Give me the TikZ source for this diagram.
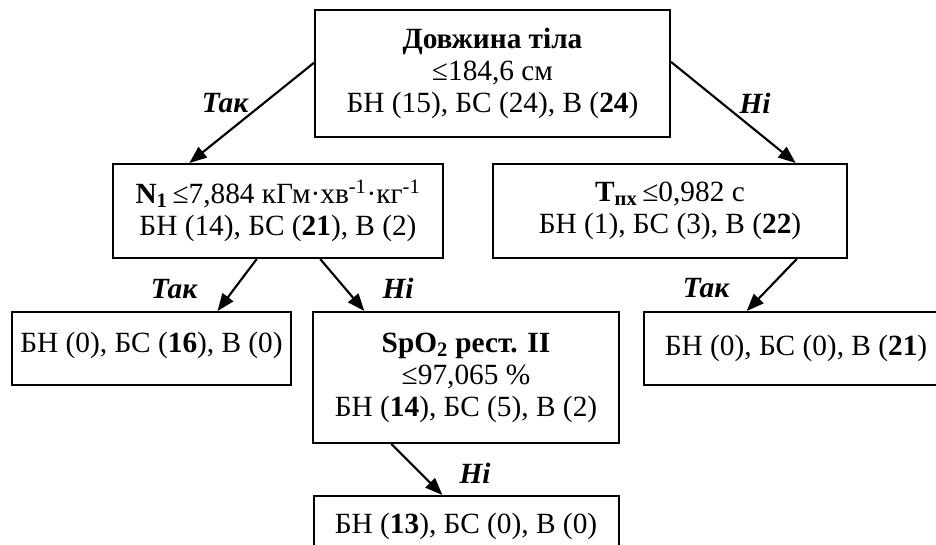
\documentclass[tikz,border=0pt]{standalone}
\usepackage{fontspec}
\setmainfont{Liberation Serif}
\usetikzlibrary{calc,arrows.meta}
\begin{document}
\begin{tikzpicture}[x=0.75pt,y=-0.75pt,
  txt/.style={font=\fontsize{22}{24}\selectfont},
  box/.style={txt,draw,line width=1.5pt,align=center,inner sep=0pt},
  answer/.style={font=\fontsize{22}{24}\selectfont\bfseries\itshape,inner sep=0pt},
  arr/.style={-{Triangle[length=13pt,width=10pt]},line width=1.6pt}]
\useasboundingbox (0,0) rectangle (936,545);
\begin{scope}
\clip (0,0) rectangle (936,545);
% decision nodes
\node[box,minimum width=266.25pt,minimum height=95.25pt] (root) at (492.5,73.5)
  {\textbf{Довжина тіла}\\≤184,6 см\\БН (15), БС (24), В (\textbf{24})};
\node[box,minimum width=247.5pt,minimum height=70.5pt] (n1) at (278,211)
  {\textbf{N\textsubscript{1}}\,≤7,884 кГм·хв\textsuperscript{-1}·кг\textsuperscript{-1}\\БН (14), БС (\textbf{21}), В (2)};
\node[box,minimum width=265.5pt,minimum height=70.5pt] (tpx) at (670,211)
  {\textbf{T\textsubscript{пх}}\,≤0,982 с\\БН (1), БС (3), В (\textbf{22})};
\node[box,minimum width=229.5pt,minimum height=98.25pt] (spo) at (466,377.5)
  {\textbf{SpO\textsubscript{2} рест. II}\\≤97,065 \%\\БН (\textbf{14}), БС (5), В (2)};
% leaves
\node[box,minimum width=209.25pt,minimum height=54.75pt] (leafa) at (151.5,348.5)
  {\raisebox{10pt}{БН (0), БС (\textbf{16}), В (0)}};
\node[box,minimum width=228pt,minimum height=54.75pt] (leafb) at (796,348.5)
  {БН (0), БС (0), В (\textbf{21})};
\node[box,minimum width=228.75pt,minimum height=45pt] (leafc) at (466,526)
  {\raisebox{3pt}{БН (\textbf{13}), БС (0), В (0)}};
\end{scope}
% branches
\draw[arr] ($(root.north west)!0.417!(root.south west)$) -- ($(n1.north west)!0.233!(n1.north east)$);
\draw[arr] ($(root.north east)!0.41!(root.south east)$) -- ($(tpx.north west)!0.853!(tpx.north east)$);
\draw[arr] ($(n1.south west)!0.436!(n1.south east)$) -- ($(leafa.north west)!0.735!(leafa.north east)$);
\draw[arr] ($(n1.south west)!0.627!(n1.south east)$) -- ($(spo.north west)!0.17!(spo.north east)$);
\draw[arr] ($(tpx.south west)!0.856!(tpx.south east)$) -- ($(leafb.north west)!0.339!(leafb.north east)$);
\draw[arr] ($(spo.south west)!0.258!(spo.south east)$) -- ($(leafc.north west)!0.423!(leafc.north east)$);
% branch labels
\node[answer] (l1) at (225,103) {Так};
\node[answer] (l2) at (755,103) {Ні};
\node[answer] (l3) at (174,289) {Так};
\node[answer] (l4) at (398,288) {Ні};
\node[answer] (l5) at (706,288) {Так};
\node[answer] (l6) at (475,473) {Ні};
\end{tikzpicture}
\end{document}
